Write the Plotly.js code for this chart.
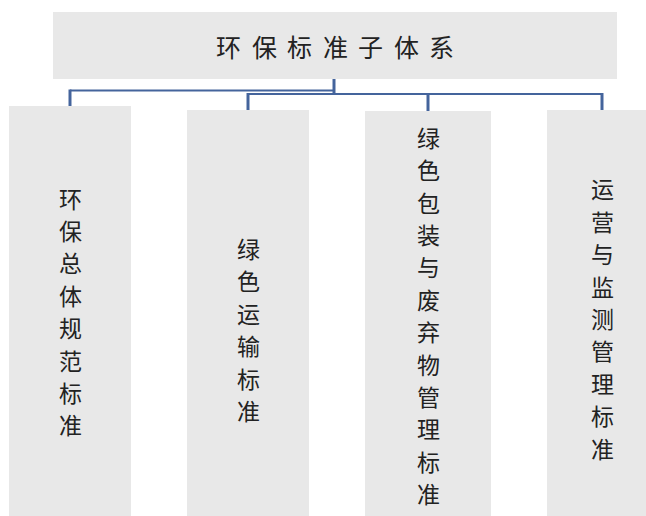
<!DOCTYPE html>
<html>
<head>
<meta charset="utf-8">
<script src="https://cdn.plot.ly/plotly-3.0.1.min.js"></script>
<style>html,body{margin:0;padding:0;background:#fff;}#chart{width:646px;height:516px;}</style>
</head>
<body>
<div id="chart"></div>
<script>
// ---- data ----
const rootLabel = '环保标准子体系';
const childLabels = ['环保总体规范标准', '绿色运输标准', '绿色包装与废弃物管理标准', '运营与监测管理标准'];

// ---- layout constants (pixel-like coordinates on a 646x516 canvas) ----
const rootBox = {x0: 53, x1: 617, y0: 12, y1: 79};
const childX0 = [9, 187, 365, 547];
const childX1 = [131, 309, 491, 669];
const childTop = [106, 110, 111, 110];
const childBottom = 516;
const childTextCenterY = [311, 329, 315, 318];
const charPitch = 32.4;
const titlePitch = 35.5;
const stemX = 334;
const lineAY = 90.5, lineBY = 94;
const lineColor = '#44649c';
const boxFill = '#e8e8e8';
const fontFamily = '"Noto Sans CJK SC", "Noto Sans CJK TC", sans-serif';

const shapes = [];
const annotations = [];

// root box
shapes.push({type: 'rect', xref: 'x', yref: 'y', x0: rootBox.x0, x1: rootBox.x1, y0: rootBox.y0, y1: rootBox.y1,
  fillcolor: boxFill, line: {width: 0}, layer: 'below'});

// child boxes
childLabels.forEach((lab, i) => {
  shapes.push({type: 'rect', xref: 'x', yref: 'y', x0: childX0[i], x1: childX1[i], y0: childTop[i], y1: childBottom,
    fillcolor: boxFill, line: {width: 0}, layer: 'below'});
});

// connectors
const centers = childLabels.map((_, i) => i === 3 ? 602 : (childX0[i] + childX1[i]) / 2);
const ln = (x0, y0, x1, y1, w) => shapes.push({type: 'line', xref: 'x', yref: 'y', x0, y0, x1, y1,
  line: {color: lineColor, width: w || 2.2}});
ln(stemX, rootBox.y1, stemX, lineBY + 1, 3);
ln(centers[0], lineAY, stemX, lineAY);
ln(centers[0], lineAY - 1, centers[0], childTop[0], 3);
ln(centers[1], lineBY, centers[3], lineBY);
for (let i = 1; i < centers.length; i++) ln(centers[i], lineBY - 1, centers[i], childTop[i], 3);

// title characters
const tchars = Array.from(rootLabel);
const tcx = (rootBox.x0 + rootBox.x1) / 2, tcy = 46;
tchars.forEach((c, k) => {
  annotations.push({xref: 'x', yref: 'y', x: tcx + (k - (tchars.length - 1) / 2) * titlePitch, y: tcy,
    text: c, showarrow: false, xanchor: 'center', yanchor: 'middle',
    font: {family: fontFamily, size: 25, color: '#222'}});
});

// vertical child labels
childLabels.forEach((lab, i) => {
  const chars = Array.from(lab);
  chars.forEach((c, k) => {
    annotations.push({xref: 'x', yref: 'y', x: centers[i], y: childTextCenterY[i] + (k - (chars.length - 1) / 2) * charPitch,
      text: c, showarrow: false, xanchor: 'center', yanchor: 'middle',
      font: {family: fontFamily, size: 23, color: '#222'}});
  });
});

const layout = {
  width: 646, height: 516,
  margin: {l: 0, r: 0, t: 0, b: 0, pad: 0},
  paper_bgcolor: '#ffffff', plot_bgcolor: '#ffffff',
  xaxis: {range: [0, 646], visible: false, fixedrange: true},
  yaxis: {range: [516, 0], visible: false, fixedrange: true},
  shapes, annotations, showlegend: false
};

Plotly.newPlot('chart', [{x: [], y: [], type: 'scatter', mode: 'markers', hoverinfo: 'skip'}], layout,
  {displayModeBar: false, staticPlot: true});
</script>
</body>
</html>
